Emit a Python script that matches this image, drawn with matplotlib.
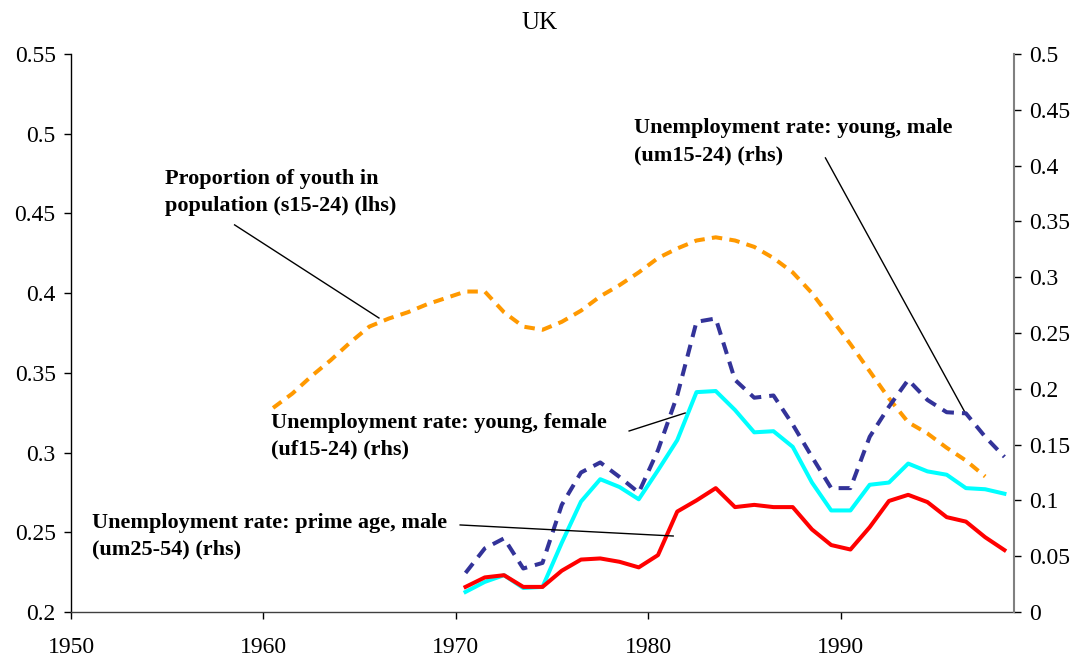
import numpy as np
import matplotlib
matplotlib.use("Agg")
import matplotlib.pyplot as plt

# === dados ===
anos_s = np.arange(1960, 1998)
s15_24 = [0.328, 0.337, 0.348, 0.358, 0.369, 0.379, 0.384, 0.388, 0.393, 0.397,
          0.401, 0.401, 0.388, 0.379, 0.377, 0.382, 0.389, 0.398, 0.405, 0.413,
          0.422, 0.428, 0.433, 0.435, 0.433, 0.429, 0.422, 0.413, 0.400, 0.384,
          0.368, 0.351, 0.334, 0.319, 0.312, 0.303, 0.295, 0.285]

anos_u = np.arange(1970, 1999)
um15_24 = [0.035, 0.057, 0.066, 0.039, 0.044, 0.096, 0.125, 0.134, 0.121, 0.107,
           0.145, 0.194, 0.260, 0.263, 0.208, 0.192, 0.194, 0.168, 0.139, 0.111,
           0.111, 0.157, 0.184, 0.208, 0.190, 0.179, 0.178, 0.157, 0.139]
uf15_24 = [0.018, 0.027, 0.033, 0.0215, 0.0225, 0.062, 0.099, 0.119, 0.112, 0.101,
           0.127, 0.154, 0.197, 0.198, 0.181, 0.161, 0.162, 0.148, 0.116, 0.091,
           0.091, 0.114, 0.116, 0.133, 0.126, 0.123, 0.111, 0.110, 0.106]
um25_54 = [0.0225, 0.031, 0.033, 0.0225, 0.0225, 0.037, 0.047, 0.048, 0.045, 0.040,
           0.051, 0.090, 0.100, 0.111, 0.094, 0.096, 0.094, 0.094, 0.074, 0.060,
           0.056, 0.076, 0.0995, 0.105, 0.0985, 0.085, 0.081, 0.067, 0.0555]

xticks = [1950, 1960, 1970, 1980, 1990]
lticks = [0.2, 0.25, 0.3, 0.35, 0.4, 0.45, 0.5, 0.55]
rticks = [0, 0.05, 0.1, 0.15, 0.2, 0.25, 0.3, 0.35, 0.4, 0.45, 0.5]

plt.rcParams['font.family'] = ['Liberation Serif', 'DejaVu Serif']

fig = plt.figure(figsize=(10.79, 6.62), dpi=100)
ax = fig.add_axes([0.0658, 0.0755, 0.874, 0.843])
ax2 = ax.twinx()

# pontos no meio de cada categoria (estilo Excel)
ax.plot(anos_s + 0.5, s15_24, color='#FF9900', lw=2.9, dashes=(2.6, 1.8))
ax2.plot(anos_u + 0.5, um15_24, color='#333399', lw=2.9, dashes=(3.0, 2.0))
ax2.plot(anos_u + 0.5, uf15_24, color='#00FFFF', lw=2.9)
ax2.plot(anos_u + 0.5, um25_54, color='#FF0000', lw=2.9)

ax.set_xlim(1950, 1999)
ax.set_ylim(0.2, 0.55)
ax2.set_ylim(0, 0.5)
ax.set_xticks(xticks)
ax.set_xticklabels([str(t) for t in xticks])
ax.set_yticks(lticks)
ax.set_yticklabels(['0.2', '0.25', '0.3', '0.35', '0.4', '0.45', '0.5', '0.55'])
ax2.set_yticks(rticks)
ax2.set_yticklabels(['0', '0.05', '0.1', '0.15', '0.2', '0.25', '0.3', '0.35', '0.4', '0.45', '0.5'])

for a in (ax, ax2):
    a.spines['top'].set_visible(False)
ax.spines['right'].set_visible(False)
ax2.spines['left'].set_visible(False)
ax2.spines['bottom'].set_visible(False)
ax2.spines['right'].set_color('#808080')
ax2.spines['right'].set_linewidth(1.5)
ax.spines['left'].set_linewidth(1.0)
ax.spines['bottom'].set_linewidth(1.0)
ax.spines['bottom'].set_color('#404040')

ax.tick_params(axis='y', direction='out', length=5, width=1, labelsize=17, pad=6)
ax.tick_params(axis='x', direction='out', length=5, width=1, labelsize=17, pad=13)
ax2.tick_params(axis='y', direction='out', length=5, width=1, labelsize=17, pad=6)

fig.text(0.5, 0.966, 'UK', ha='center', va='center', fontsize=18)

# === anotações ===
fs = 16
ls = 1.45
ax.text(1954.9, 0.4629, 'Proportion of youth in\npopulation (s15-24) (lhs)',
        fontsize=fs, fontweight='bold', va='center', ha='left', linespacing=ls)
ax.plot([1958.5, 1966.0], [0.4428, 0.3844], color='black', lw=1)

ax.text(1979.26, 0.4949, 'Unemployment rate: young, male\n(um15-24) (rhs)',
        fontsize=fs, fontweight='bold', va='center', ha='left', linespacing=ls)
ax.plot([1989.2, 1996.47], [0.4848, 0.3248], color='black', lw=1, zorder=5)

ax2.text(1960.4, 0.1575, 'Unemployment rate: young, female\n(uf15-24) (rhs)',
         fontsize=fs, fontweight='bold', va='center', ha='left', linespacing=ls)
ax2.plot([1979.0, 1981.91], [0.1622, 0.1783], color='black', lw=1)

ax2.text(1951.1, 0.068, 'Unemployment rate: prime age, male\n(um25-54) (rhs)',
         fontsize=fs, fontweight='bold', va='center', ha='left', linespacing=ls)
ax2.plot([1970.22, 1981.29], [0.0780, 0.0681], color='black', lw=1)

fig.savefig('out.png', dpi=100)
